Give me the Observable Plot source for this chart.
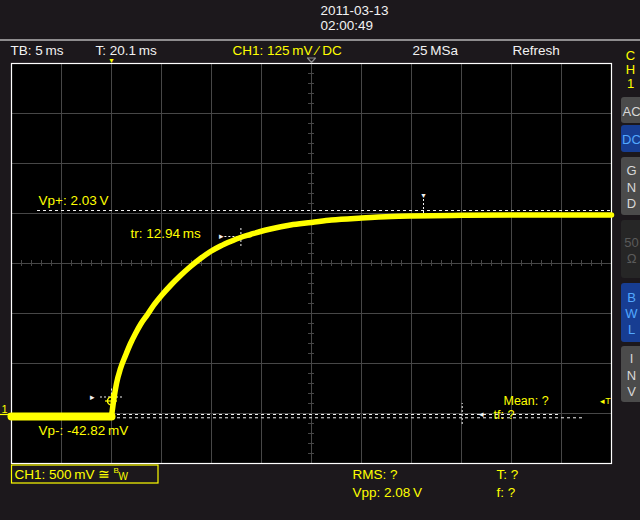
<!DOCTYPE html>
<html><head><meta charset="utf-8">
<script src="https://cdn.jsdelivr.net/npm/d3@7"></script>
<script src="https://cdn.jsdelivr.net/npm/@observablehq/plot@0.6"></script>
<style>
html,body{margin:0;padding:0;background:#1c181c;}
#chart svg{display:block;}
</style></head><body><div id="chart"></div>
<script>
// ---- waveform (time in ms relative to trigger, voltage in V) ----
const flatTime = [-10, -5, 0];
const flatVolt = [-0.03, -0.03, -0.03];
const traceTime = [0, 0.2, 0.5, 0.9, 1.4, 1.9, 2.4, 2.9, 3.6, 4.2, 5.0, 5.9, 6.9, 7.9, 8.9, 9.9, 10.9, 11.9, 12.9, 13.9, 14.9, 15.9, 17.9, 20, 22, 25, 28, 30, 34, 40, 50];
const traceVolt = [-0.03, 0.12, 0.30, 0.45, 0.58, 0.70, 0.80, 0.89, 0.99, 1.08, 1.18, 1.28, 1.38, 1.47, 1.55, 1.62, 1.675, 1.72, 1.76, 1.79, 1.82, 1.845, 1.885, 1.91, 1.935, 1.955, 1.97, 1.975, 1.98, 1.985, 1.985];

// ---- measurements ----
const vpPlus = 2.03;        // V
const vpMinus = -0.04282;   // V
const riseStart = 0;        // ms
const riseEnd = 12.94;      // ms
const level10 = 0.165;      // V
const level90 = 1.77;       // V
const trigLevel = 0.125;    // V
const tfTime = 35.07;       // ms
const tfLevel = -0.01;      // V
const peakTime = 31.2;      // ms

// ---- grid ----
const gridTimes = [-5, 0, 5, 10, 15, 20, 25, 30, 35, 40, 45];
const gridVolts = [0, 0.5, 1, 1.5, 2, 2.5, 3];
const centerTime = 20, centerVolt = 1.5;
const minorTimes = d3.range(-9, 50, 1).filter(t => (t + 10) % 5 !== 0);
const minorVolts = d3.range(-0.4, 3.45, 0.1).map(v => +v.toFixed(2)).filter(v => Math.abs((v * 10) % 5) > 0.01);

// ---- texts ----
const dateLines = ["2011-03-13", "02:00:49"];
const statusWhite = ["TB: 5\u2009ms", "T: 20.1\u2009ms", "25\u2009MSa", "Refresh"];
const statusYellow = "CH1: 125\u2009mV \u2044 DC";
const measureLabels = ["Vp+: 2.03\u2009V", "tr: 12.94\u2009ms", "Vp-: -42.82\u2009mV", "Mean: ?", "tf: ?"];
const bottomLabels = ["RMS: ?", "Vpp: 2.08\u2009V", "T: ?", "f: ?"];
const channelBox = "CH1: 500\u2009mV \u2245";
const buttons = [
  {label: "AC", kind: "gray"},
  {label: "DC", kind: "blue"},
  {label: "G\nN\nD", kind: "gray"},
  {label: "50\n\u2126", kind: "off"},
  {label: "B\nW\nL", kind: "blue"},
  {label: "I\nN\nV", kind: "gray"}
];

// pixel helpers for the instrument chrome (outside data)
const T = px => (px - 111) / 10;
const V = py => (413 - py) / 100;

const flat = flatTime.map((t, i) => ({t, v: flatVolt[i]}));
const trace = traceTime.map((t, i) => ({t, v: traceVolt[i]}));
const Y = "#ffff00", W = "#f2f2f2", GRID = "#474747";
const FONT = "'Liberation Sans', Arial, sans-serif";
const fs = 13.5;

const btnY = [[97, 123], [125, 152], [157, 215], [220, 278], [283, 342], [346, 402]];
const btnFill = {gray: "#4b4b4b", blue: "#173d92", off: "#262626"};
const btnText = {gray: "#d8d8d8", blue: "#52a8ff", off: "#5a5a5a"};
const btnData = buttons.map((b, i) => ({...b, y1: V(btnY[i][0]), y2: V(btnY[i][1]), yc: V((btnY[i][0] + btnY[i][1]) / 2)}));

// small screen-position markers (outlined centre marker at top of the screen)
const centreMarker = [[307, 57.5], [315, 57.5], [311, 62], [307, 57.5]].map(([px, py]) => ({t: T(px), v: V(py)}));

const chart = Plot.plot({
  width: 640, height: 520,
  marginLeft: 11, marginRight: 29, marginTop: 63, marginBottom: 57,
  x: {domain: [-10, 50], range: [11, 611], axis: null},
  y: {domain: [-0.5, 3.5], range: [463, 63], axis: null},
  style: {background: "#1c181c", fontFamily: FONT, fontSize: fs + "px"},
  marks: [
    // plot area
    Plot.rect([0], {x1: -10, x2: 50, y1: -0.5, y2: 3.5, fill: "#000"}),
    Plot.ruleX(gridTimes, {y1: -0.5, y2: 3.5, stroke: GRID, strokeWidth: 1}),
    Plot.ruleY(gridVolts, {x1: -10, x2: 50, stroke: GRID, strokeWidth: 1}),
    Plot.ruleX(minorTimes, {y1: centerVolt - 0.03, y2: centerVolt + 0.03, stroke: GRID}),
    Plot.ruleY(minorVolts, {x1: centerTime - 0.3, x2: centerTime + 0.3, stroke: GRID}),
    Plot.frame({stroke: "#ffffff", strokeWidth: 1.2}),

    // header
    Plot.ruleY([0], {y: V(39.5), x1: T(0), x2: T(640), stroke: "#ffffff", strokeWidth: 1.2}),
    Plot.text(dateLines, {x: T(320), y: (d, i) => V(10 + i * 15.5), text: d => d, textAnchor: "start", fill: W, fontSize: fs}),
    Plot.text(statusWhite, {x: (d, i) => T([10, 95, 412, 512][i]), y: V(50), text: d => d, textAnchor: "start", fill: W, fontSize: fs}),
    Plot.text([statusYellow], {x: T(232), y: V(50), text: d => d, textAnchor: "start", fill: Y, fontSize: fs}),

    // edge markers
    Plot.text(["\u25BC"], {x: 0, y: V(60), text: d => d, fill: Y, fontSize: 7}),
    Plot.line(centreMarker, {x: "t", y: "v", stroke: "#8a8a8a", strokeWidth: 1.2}),
    Plot.text(["1"], {x: T(4), y: V(409), text: d => d, fill: Y, fontSize: 11}),
    Plot.ruleY([0], {y: V(414), x1: T(0), x2: T(8), stroke: Y, strokeWidth: 1.2}),
    Plot.text(["\u25B8"], {x: T(9), y: V(414), text: d => d, fill: Y, fontSize: 8}),
    Plot.text(["\u25C2T"], {x: T(605), y: V(401), text: d => d, fill: Y, fontSize: 9}),

    // measurement cursors
    Plot.ruleY([vpPlus], {x1: T(37), x2: 50, stroke: W, strokeDasharray: "3,3"}),
    Plot.ruleY([vpMinus], {x1: riseStart, x2: T(585), stroke: W, strokeDasharray: "3,3"}),
    Plot.ruleY([tfLevel], {x1: riseStart, x2: T(560), stroke: W, strokeDasharray: "3,3"}),
    Plot.ruleX([tfTime], {y1: tfLevel - 0.1, y2: tfLevel + 0.11, stroke: W, strokeDasharray: "2,2"}),
    Plot.text(["\u25C2"], {x: tfTime + 1.9, y: tfLevel, text: d => d, fill: W, fontSize: 9}),
    Plot.ruleY([level10], {x1: riseStart - 1.1, x2: riseStart + 1.1, stroke: W, strokeDasharray: "2,2"}),
    Plot.ruleX([riseStart], {y1: level10 - 0.1, y2: level10 + 0.1, stroke: W, strokeDasharray: "2,2"}),
    Plot.text(["\u25B8"], {x: riseStart - 1.9, y: level10, text: d => d, fill: W, fontSize: 9}),
    Plot.ruleY([level90], {x1: riseEnd - 1.6, x2: riseEnd + 1, stroke: W, strokeDasharray: "2,2"}),
    Plot.ruleX([riseEnd], {y1: level90 - 0.1, y2: level90 + 0.1, stroke: W, strokeDasharray: "2,2"}),
    Plot.text(["\u25B8"], {x: riseEnd - 1.9, y: level90, text: d => d, fill: W, fontSize: 9}),
    Plot.ruleX([peakTime], {y1: 1.96, y2: V(198), stroke: W, strokeDasharray: "2,2"}),
    Plot.text(["\u25BC"], {x: peakTime, y: V(195), text: d => d, fill: W, fontSize: 7}),

    // waveform
    Plot.line(flat, {x: "t", y: "v", stroke: Y, strokeWidth: 8}),
    Plot.line(trace, {x: "t", y: "v", stroke: Y, strokeWidth: 5.5, curve: "monotone-x"}),

    // trigger point crosshair
    Plot.dot([0], {x: riseStart, y: trigLevel, r: 4, stroke: Y, fill: "none", strokeWidth: 1.5}),
    Plot.ruleY([trigLevel], {x1: riseStart - 0.6, x2: riseStart + 0.6, stroke: Y, strokeWidth: 1.2}),
    Plot.ruleX([riseStart], {y1: trigLevel - 0.07, y2: trigLevel + 0.07, stroke: Y, strokeWidth: 1.2}),

    // measurement labels
    Plot.text(measureLabels, {
      x: (d, i) => T([38, 130, 38, 503, 493][i]),
      y: (d, i) => V([200, 233, 430, 400.5, 414.5][i]),
      text: d => d, textAnchor: "start", fill: Y, fontSize: (d, i) => i >= 3 ? 12.5 : fs
    }),

    // right side panel
    Plot.text(["C\nH\n1"], {x: T(630), y: V(69), text: d => d, fill: Y, fontSize: 13, lineHeight: 1.05}),
    Plot.rect(btnData, {x1: T(621), x2: T(645), y1: "y1", y2: "y2", fill: d => btnFill[d.kind], rx: 3}),
    Plot.text(btnData, {x: T(631), y: "yc", text: "label", fill: d => btnText[d.kind], fontSize: 13, lineHeight: 1.25}),

    // bottom status
    Plot.rect([0], {x1: T(11.5), x2: T(158), y1: V(465), y2: V(483), fill: "none", stroke: Y, strokeWidth: 1.2}),
    Plot.text([channelBox], {x: T(14), y: V(474), text: d => d, textAnchor: "start", fill: Y, fontSize: fs}),
    Plot.text(["B"], {x: T(113), y: V(470), text: d => d, textAnchor: "start", fill: Y, fontSize: 8}),
    Plot.text(["W"], {x: T(118), y: V(476), text: d => d, textAnchor: "start", fill: Y, fontSize: 10}),
    Plot.text(bottomLabels, {
      x: (d, i) => T([352, 352, 496, 496][i]),
      y: (d, i) => V([474, 492, 474, 492][i]),
      text: d => d, textAnchor: "start", fill: Y, fontSize: fs
    })
  ]
});
document.getElementById("chart").append(chart);
</script></body></html>
